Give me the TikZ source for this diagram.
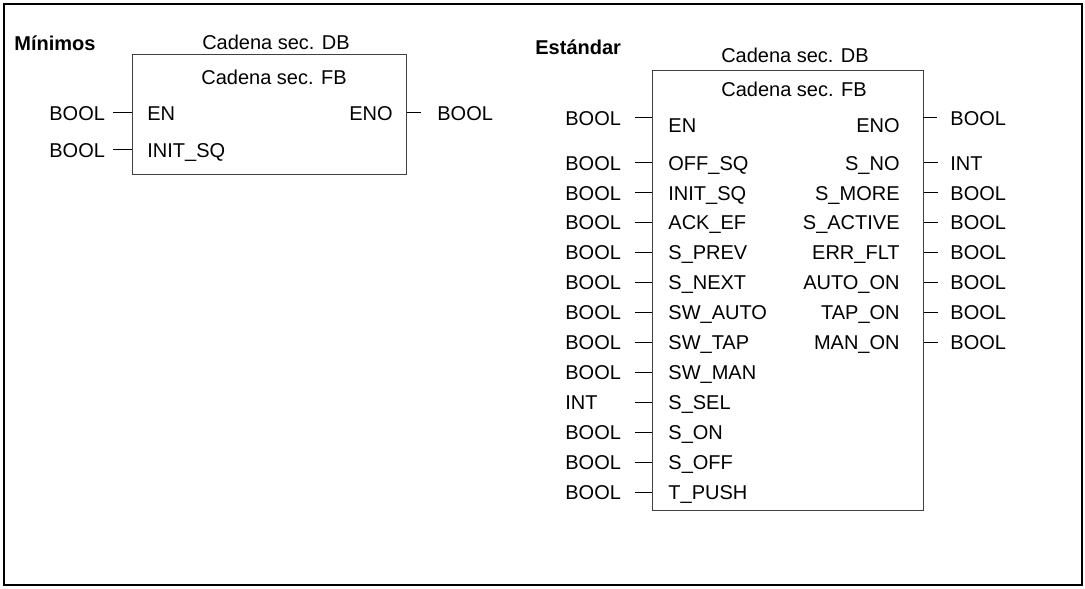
\documentclass[tikz,border=0pt]{standalone}
\usepackage{fontspec}
\setmainfont{Liberation Sans}
\usetikzlibrary{positioning}

\tikzset{
  lbl/.style={font=\fontsize{10}{12}\selectfont, inner sep=0pt, text height=7.2pt, text depth=0pt},
  inpin/.style={lbl, anchor=west},
  outpin/.style={lbl, anchor=east},
  typ/.style={lbl, anchor=west},
  fbbox/.style={draw=black!75, line width=0.6pt, inner sep=0pt, anchor=north west},
  wire/.style={line width=0.5pt}
}

\begin{document}
\begin{tikzpicture}[x=0.5pt,y=-0.5pt]
  \useasboundingbox (0,0) rectangle (1085,588);
  \draw[line width=1pt] (3.5,4.5) rectangle (1081.5,584.5);

  % Minimos
  \node[inpin, font=\fontsize{10}{12}\selectfont\bfseries] (minimos) at (14,43) {Mínimos};
  \node[fbbox, minimum width=137pt, minimum height=60pt] (fbA) at (132,54) {};
  \node[lbl] (dbA) at (276,42) {Cadena sec. DB};
  \node[lbl] (nameA) at (274,77) {Cadena sec. FB};
  \node[inpin] (enA) at (147,113) {EN};        \node[typ] (tenA) at (49,113) {BOOL};   \draw[wire] (enA -| fbA.west) -- +(-19,0);
  \node[inpin] (initA) at (147,150) {INIT\_SQ}; \node[typ] (tinitA) at (49,150) {BOOL}; \draw[wire] (initA -| fbA.west) -- +(-19,0);
  \node[outpin] (enoA) at (393,113) {ENO};     \node[typ] (tenoA) at (437,113) {BOOL}; \draw[wire] (enoA -| fbA.east) -- +(14,0);

  % Estandar
  \node[inpin, font=\fontsize{10}{12}\selectfont\bfseries] (estandar) at (535,47) {Estándar};
  \node[fbbox, minimum width=135.5pt, minimum height=220pt] (fbB) at (652,70) {};
  \node[lbl] (dbB) at (795,55) {Cadena sec. DB};
  \node[lbl] (nameB) at (794,89) {Cadena sec. FB};
  \coordinate (enB-w) at (652,118);
  \coordinate (enoB-w) at (923,118);
  \node[inpin] (enB) at (668,125) {EN};          \node[typ] (tenB) at (565,118) {BOOL};  \draw[wire] (enB-w) -- +(-17,0);
  \node[inpin] (offB) at (668,163) {OFF\_SQ};    \node[typ] (toffB) at (565,163) {BOOL}; \draw[wire] (offB -| fbB.west) -- +(-17,0);
  \node[inpin] (initB) at (668,193) {INIT\_SQ};  \node[typ] (tinitB) at (565,193) {BOOL}; \draw[wire] (initB -| fbB.west) -- +(-17,0);
  \node[inpin] (ackB) at (668,222) {ACK\_EF};    \node[typ] (tackB) at (565,222) {BOOL}; \draw[wire] (ackB -| fbB.west) -- +(-17,0);
  \node[inpin] (prevB) at (668,252) {S\_PREV};   \node[typ] (tprevB) at (565,252) {BOOL}; \draw[wire] (prevB -| fbB.west) -- +(-17,0);
  \node[inpin] (nextB) at (668,282) {S\_NEXT};   \node[typ] (tnextB) at (565,282) {BOOL}; \draw[wire] (nextB -| fbB.west) -- +(-17,0);
  \node[inpin] (autoB) at (668,312) {SW\_AUTO};  \node[typ] (tautoB) at (565,312) {BOOL}; \draw[wire] (autoB -| fbB.west) -- +(-17,0);
  \node[inpin] (tapB) at (668,342) {SW\_TAP};    \node[typ] (ttapB) at (565,342) {BOOL}; \draw[wire] (tapB -| fbB.west) -- +(-17,0);
  \node[inpin] (manB) at (668,372) {SW\_MAN};    \node[typ] (tmanB) at (565,372) {BOOL}; \draw[wire] (manB -| fbB.west) -- +(-17,0);
  \node[inpin] (selB) at (668,402) {S\_SEL};     \node[typ] (tselB) at (565,402) {INT};  \draw[wire] (selB -| fbB.west) -- +(-17,0);
  \node[inpin] (onB) at (668,432) {S\_ON};       \node[typ] (tonB) at (565,432) {BOOL};  \draw[wire] (onB -| fbB.west) -- +(-17,0);
  \node[inpin] (soffB) at (668,462) {S\_OFF};    \node[typ] (tsoffB) at (565,462) {BOOL}; \draw[wire] (soffB -| fbB.west) -- +(-17,0);
  \node[inpin] (pushB) at (668,492) {T\_PUSH};   \node[typ] (tpushB) at (565,492) {BOOL}; \draw[wire] (pushB -| fbB.west) -- +(-17,0);

  \node[outpin] (enoB) at (900,125) {ENO};        \node[typ] (tenoB) at (950,118) {BOOL}; \draw[wire] (enoB-w) -- +(14,0);
  \node[outpin] (snoB) at (900,163) {S\_NO};      \node[typ] (tsnoB) at (950,163) {INT};  \draw[wire] (snoB -| fbB.east) -- +(14,0);
  \node[outpin] (moreB) at (900,193) {S\_MORE};   \node[typ] (tmoreB) at (950,193) {BOOL}; \draw[wire] (moreB -| fbB.east) -- +(14,0);
  \node[outpin] (actB) at (900,222) {S\_ACTIVE};  \node[typ] (tactB) at (950,222) {BOOL}; \draw[wire] (actB -| fbB.east) -- +(14,0);
  \node[outpin] (errB) at (900,252) {ERR\_FLT};   \node[typ] (terrB) at (950,252) {BOOL}; \draw[wire] (errB -| fbB.east) -- +(14,0);
  \node[outpin] (aonB) at (900,282) {AUTO\_ON};   \node[typ] (taonB) at (950,282) {BOOL}; \draw[wire] (aonB -| fbB.east) -- +(14,0);
  \node[outpin] (tonB2) at (900,312) {TAP\_ON};   \node[typ] (ttonB) at (950,312) {BOOL}; \draw[wire] (tonB2 -| fbB.east) -- +(14,0);
  \node[outpin] (monB) at (900,342) {MAN\_ON};    \node[typ] (tmonB) at (950,342) {BOOL}; \draw[wire] (monB -| fbB.east) -- +(14,0);
\end{tikzpicture}
\end{document}
